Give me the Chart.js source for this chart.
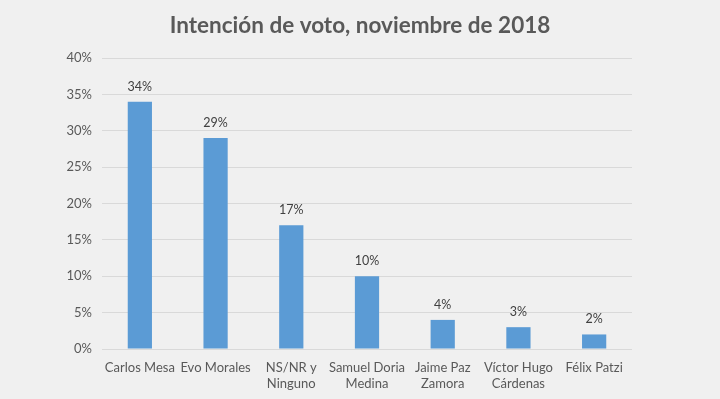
<!DOCTYPE html>
<html>
<head>
<meta charset="utf-8">
<script src="https://cdn.jsdelivr.net/npm/chart.js@4"></script>
<style>
  html, body { margin: 0; padding: 0; background: #f0f0f0; }
  #wrap { width: 720px; height: 399px; }
</style>
</head>
<body>
<div id="wrap"><canvas id="chart" width="720" height="399"></canvas></div>
<script>
// datos de la encuesta
const candidatos = [
  "Carlos Mesa",
  "Evo Morales",
  ["NS/NR y", "Ninguno"],
  ["Samuel Doria", "Medina"],
  ["Jaime Paz", "Zamora"],
  ["Víctor Hugo", "Cárdenas"],
  "Félix Patzi"
];
const intencion = [34, 29, 17, 10, 4, 3, 2];
const tituloTexto = "Intención de voto, noviembre de 2018";

// fondo gris y etiquetas encima de las barras
const fondo = {
  id: "fondo",
  beforeDraw(chart) {
    const ctx = chart.ctx;
    ctx.save();
    ctx.fillStyle = "#f0f0f0";
    ctx.fillRect(0, 0, chart.width, chart.height);
    ctx.restore();
  }
};
const etiquetas = {
  id: "etiquetas",
  afterDatasetsDraw(chart) {
    const ctx = chart.ctx;
    const meta = chart.getDatasetMeta(0);
    ctx.save();
    ctx.font = "12.5px Lato";
    ctx.fillStyle = "#404040";
    ctx.textAlign = "center";
    ctx.textBaseline = "middle";
    meta.data.forEach((bar, i) => {
      ctx.fillText(intencion[i] + "%", bar.x, bar.y - 15);
    });
    ctx.restore();
  }
};

new Chart(document.getElementById("chart").getContext("2d"), {
  type: "bar",
  data: {
    labels: candidatos,
    datasets: [{
      data: intencion,
      backgroundColor: "#5b9bd5",
      categoryPercentage: 1,
      barPercentage: 0.32
    }]
  },
  options: {
    responsive: false,
    animation: false,
    layout: { padding: 0 },
    plugins: {
      legend: { display: false },
      tooltip: { enabled: false },
      title: {
        display: true,
        text: tituloTexto,
        color: "#595959",
        font: { family: "Lato", size: 22.5, weight: "bold" },
        padding: { top: 12, bottom: 19 }
      }
    },
    scales: {
      x: {
        grid: { display: false },
        border: { display: false },
        ticks: {
          color: "#595959",
          font: { family: "Lato", size: 13 },
          padding: 3,
          maxRotation: 0,
          autoSkip: false
        },
        afterFit(axis) { axis.height = 50; }
      },
      y: {
        min: 0,
        max: 40,
        grid: { color: "#d9d9d9", drawTicks: false },
        border: { display: false },
        ticks: {
          stepSize: 5,
          color: "#595959",
          font: { family: "Lato", size: 13 },
          padding: 10,
          callback: (v) => v + "%"
        },
        afterFit(axis) { axis.width = 102; }
      },
      // eje vacío a la derecha, solo reserva espacio
      margen: {
        position: "right",
        grid: { display: false },
        border: { display: false },
        ticks: { display: false },
        afterFit(axis) { axis.width = 88; }
      }
    }
  },
  plugins: [fondo, etiquetas]
});
</script>
</body>
</html>
